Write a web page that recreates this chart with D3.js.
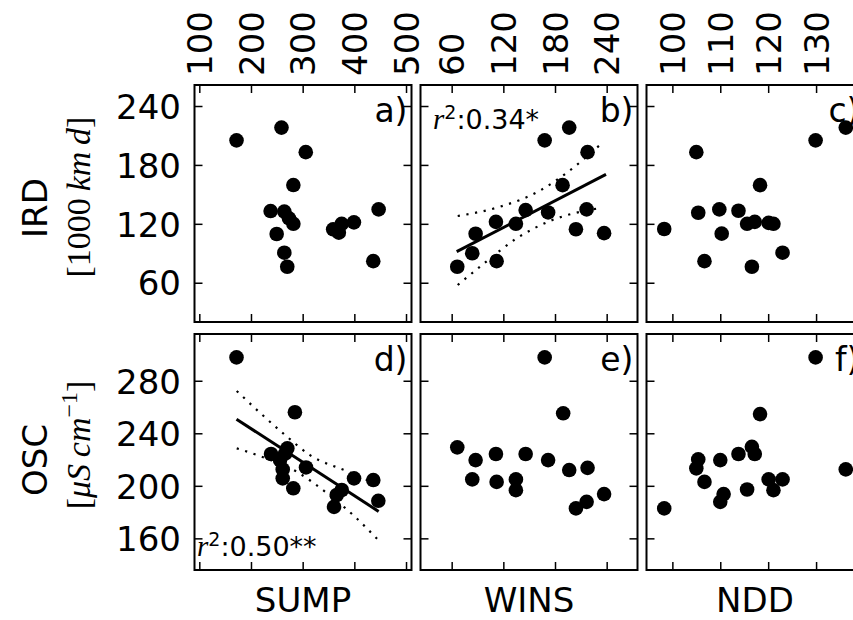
<!DOCTYPE html>
<html>
<head>
  <meta charset="utf-8">
  <title>IRD / OSC vs SUMP, WINS, NDD</title>
  <script src="https://d3js.org/d3.v7.min.js"></script>
  <style>
    body { margin: 0; background: #fff; overflow: hidden; }
  </style>
</head>
<body>
  <div id="chart"></div>

  <script>
    // values
    const sumpA = [172, 259, 306, 282, 238, 264.5, 273.5, 282, 249.7, 264.5, 270.2, 359, 370, 375.5, 399.2, 447, 436.6];
    const irdA  = [205, 218, 193, 159.5, 133, 132.5, 125.6, 120, 109.6, 90.6, 76.3, 114.4, 111, 120, 121.5, 134.7, 82];

    const winsB = [66.5, 83.9, 87.8, 111.4, 112.2, 134.6, 145.9, 172, 168, 196.5, 188.8, 217.8, 216.7, 204.3, 237];
    const irdB  = [76.3, 90, 109.9, 122, 82, 120, 134, 131.6, 205, 218, 159.4, 193, 134.7, 114.5, 110.5];

    const nddC = [98.3, 105, 105.4, 106.7, 109.8, 110.3, 113.8, 115.6, 117.2, 118.3, 116.6, 120.1, 121.1, 123, 129.9, 136.2];
    const irdC = [114.7, 193, 131.3, 82, 134.7, 110, 133.3, 120, 122, 159.4, 76.3, 121, 120, 90.6, 205, 218];

    const sumpD = [172, 285, 238.8, 270.3, 266, 256.2, 261.4, 261.4, 281.9, 306.5, 375.6, 365.9, 360.7, 399.4, 436.7, 446.4];
    const oscD  = [297.8, 256, 224.2, 228.5, 224.5, 219.6, 212.5, 205.7, 198.1, 214, 196.8, 193, 184, 205.7, 204.4, 188.6];

    const winsE = [66.5, 83.9, 87.8, 111.4, 112.2, 134.6, 134.6, 145.9, 168, 172, 189.5, 196.5, 217.8, 204.3, 216.7, 237];
    const oscE  = [229.3, 204.9, 219.6, 224.2, 203, 204.9, 196.7, 224.2, 297.8, 219.6, 255.2, 212, 213.7, 182.8, 187.8, 193.7];

    const nddF = [98.3, 105, 105.4, 106.7, 110, 110, 110.7, 113.8, 115.6, 116.6, 117.2, 118.3, 120.1, 121.1, 123, 129.9, 136.2];
    const oscF = [182.8, 213.3, 220.1, 203, 219.6, 187.8, 193.7, 224.2, 197.2, 229.7, 224.2, 254.6, 204.9, 196.7, 204.9, 297.8, 212.5];

    // regression lines and confidence bands (b and d)
    const fitBx = [65.8, 239.2], fitBy = [91.6, 170.4];
    const upBx = [67, 116.1, 161.7, 194.2, 232.2], upBy = [128, 137.4, 153.4, 172.4, 200.3];
    const loBx = [67, 96.7, 135.5, 174.2, 230.2], loBy = [57.7, 79, 105.2, 122.9, 135.8];

    const fitDx = [172, 447], fitDy = [250.7, 180.5];
    const upDx = [172.4, 264.5, 314.2, 388.3, 447], upDy = [272.2, 239.2, 223.4, 210.7, 200.3];
    const loDx = [172.4, 212.2, 288.5, 341.3, 401.3, 446.4], loDy = [228.5, 223.4, 210.7, 196.2, 176.4, 158.7];

    // axes
    const xNames = ["SUMP", "WINS", "NDD"];
    const xDomains = [[90.7, 510.6], [23.8, 275.8], [94.6, 139.9]];
    const xTicks = [[100, 200, 300, 400, 500], [60, 120, 180, 240], [100, 110, 120, 130]];
    const yDomains = [[20, 261.4], [135.9, 315.6]];
    const yTicks = [[60, 120, 180, 240], [160, 200, 240, 280]];
    const letters = ["a)", "b)", "c)", "d)", "e)", "f)"];
    const r2Labels = { 1: "0.34*", 3: "0.50**" };

    const panels = [
      { x: sumpA, y: irdA }, { x: winsB, y: irdB }, { x: nddC, y: irdC },
      { x: sumpD, y: oscD }, { x: winsE, y: oscE }, { x: nddF, y: oscF }
    ];
    const fits = {
      1: { fx: fitBx, fy: fitBy, ux: upBx, uy: upBy, lx: loBx, ly: loBy },
      3: { fx: fitDx, fy: fitDy, ux: upDx, uy: upDy, lx: loDx, ly: loDy }
    };

    const colLeft = [194.5, 420.5, 646.5];
    const pw = 217;
    const rowTop = [85, 334];
    const ph = [237, 236];
    const sans = "DejaVu Sans, sans-serif";
    const serif = "Liberation Serif, DejaVu Serif, serif";

    const svg = d3.select("#chart")
      .append("svg")
      .attr("width", 853)
      .attr("height", 620)
      .style("background", "#fff");

    panels.forEach(function(p, i) {
      const row = Math.floor(i / 3), col = i % 3;
      const w = pw, h = ph[row];

      const x = d3.scaleLinear().domain(xDomains[col]).range([0, w]);
      const y = d3.scaleLinear().domain(yDomains[row]).range([h, 0]);

      const g = svg.append("g")
        .attr("transform", "translate(" + colLeft[col] + "," + rowTop[row] + ")");

      // ticks, all pointing inwards
      const left = g.append("g")
        .call(d3.axisLeft(y).tickValues(yTicks[row]).tickSize(-8).tickPadding(13.5)
          .tickFormat(col === 0 ? d3.format("d") : ""));
      const right = g.append("g")
        .attr("transform", "translate(" + w + ",0)")
        .call(d3.axisRight(y).tickValues(yTicks[row]).tickSize(-8).tickFormat(""));
      const top = g.append("g")
        .call(d3.axisTop(x).tickValues(xTicks[col]).tickSize(-8)
          .tickFormat(row === 0 ? d3.format("d") : ""));
      const bottom = g.append("g")
        .attr("transform", "translate(0," + h + ")")
        .call(d3.axisBottom(x).tickValues(xTicks[col]).tickSize(-8).tickFormat(""));

      [left, right, top, bottom].forEach(function(a) {
        a.select(".domain").remove();
        a.selectAll(".tick line").attr("stroke", "#000").attr("stroke-width", 1.5);
        a.attr("font-family", sans).attr("font-size", 34);
        a.selectAll(".tick text").attr("fill", "#000");
      });
      left.selectAll(".tick text").attr("dy", "0.36em");
      top.selectAll(".tick text")
        .attr("transform", "rotate(-90)")
        .attr("x", 9)
        .attr("y", 0)
        .attr("dy", "0.36em")
        .attr("text-anchor", "start");

      // regression and bands
      if (fits[i]) {
        const f = fits[i];
        const line = d3.line().x(d => x(d[0])).y(d => y(d[1])).curve(d3.curveMonotoneX);
        g.append("path")
          .attr("d", line(d3.zip(f.fx, f.fy)))
          .attr("fill", "none").attr("stroke", "#000").attr("stroke-width", 3);
        [[f.ux, f.uy], [f.lx, f.ly]].forEach(function(b) {
          g.append("path")
            .attr("d", line(d3.zip(b[0], b[1])))
            .attr("fill", "none").attr("stroke", "#000")
            .attr("stroke-width", 2.2)
            .attr("stroke-dasharray", "2.2,6.6");
        });
      }

      g.selectAll(".dot")
        .data(d3.zip(p.x, p.y))
        .enter()
        .append("circle")
        .attr("class", "dot")
        .attr("cx", d => x(d[0]))
        .attr("cy", d => y(d[1]))
        .attr("r", 7.3)
        .attr("fill", "#000");

      g.append("rect")
        .attr("width", w).attr("height", h)
        .attr("fill", "none").attr("stroke", "#000").attr("stroke-width", 2);

      g.append("text")
        .attr("x", w - 4).attr("y", 37)
        .attr("text-anchor", "end")
        .attr("font-family", sans).attr("font-size", 33)
        .text(letters[i]);

      if (r2Labels[i]) {
        const t = g.append("text")
          .attr("x", i === 1 ? 12.5 : 2.5)
          .attr("y", i === 1 ? 44 : h - 14)
          .attr("font-family", sans).attr("font-size", 27);
        t.append("tspan").attr("font-family", serif).attr("font-style", "italic").attr("font-size", 29).text("r");
        t.append("tspan").attr("font-size", 19).attr("dy", -10).text("2");
        t.append("tspan").attr("dy", 10).text(":" + r2Labels[i]);
      }

      if (row === 1) {
        g.append("text")
          .attr("x", w / 2).attr("y", h + 42)
          .attr("text-anchor", "middle")
          .attr("font-family", sans).attr("font-size", 34)
          .text(xNames[col]);
      }
    });

    // y axis titles
    svg.append("text")
      .attr("transform", "translate(47,208) rotate(-90)")
      .attr("text-anchor", "middle")
      .attr("font-family", sans).attr("font-size", 34)
      .text("IRD");
    const u1 = svg.append("text")
      .attr("transform", "translate(90,197) rotate(-90)")
      .attr("text-anchor", "middle")
      .attr("font-family", serif).attr("font-size", 34);
    u1.append("tspan").text("[1000\u2009");
    u1.append("tspan").attr("font-style", "italic").text("km\u2009d");
    u1.append("tspan").text("]");

    svg.append("text")
      .attr("transform", "translate(47,460) rotate(-90)")
      .attr("text-anchor", "middle")
      .attr("font-family", sans).attr("font-size", 34)
      .text("OSC");
    const u2 = svg.append("text")
      .attr("transform", "translate(90,445) rotate(-90)")
      .attr("text-anchor", "middle")
      .attr("font-family", serif).attr("font-size", 34);
    u2.append("tspan").text("[");
    u2.append("tspan").attr("font-style", "italic").text("\u03bcS\u2009cm");
    u2.append("tspan").attr("font-size", 24).attr("dy", -13).text("\u22121");
    u2.append("tspan").attr("dy", 13).text("]");
  </script>
</body>
</html>
